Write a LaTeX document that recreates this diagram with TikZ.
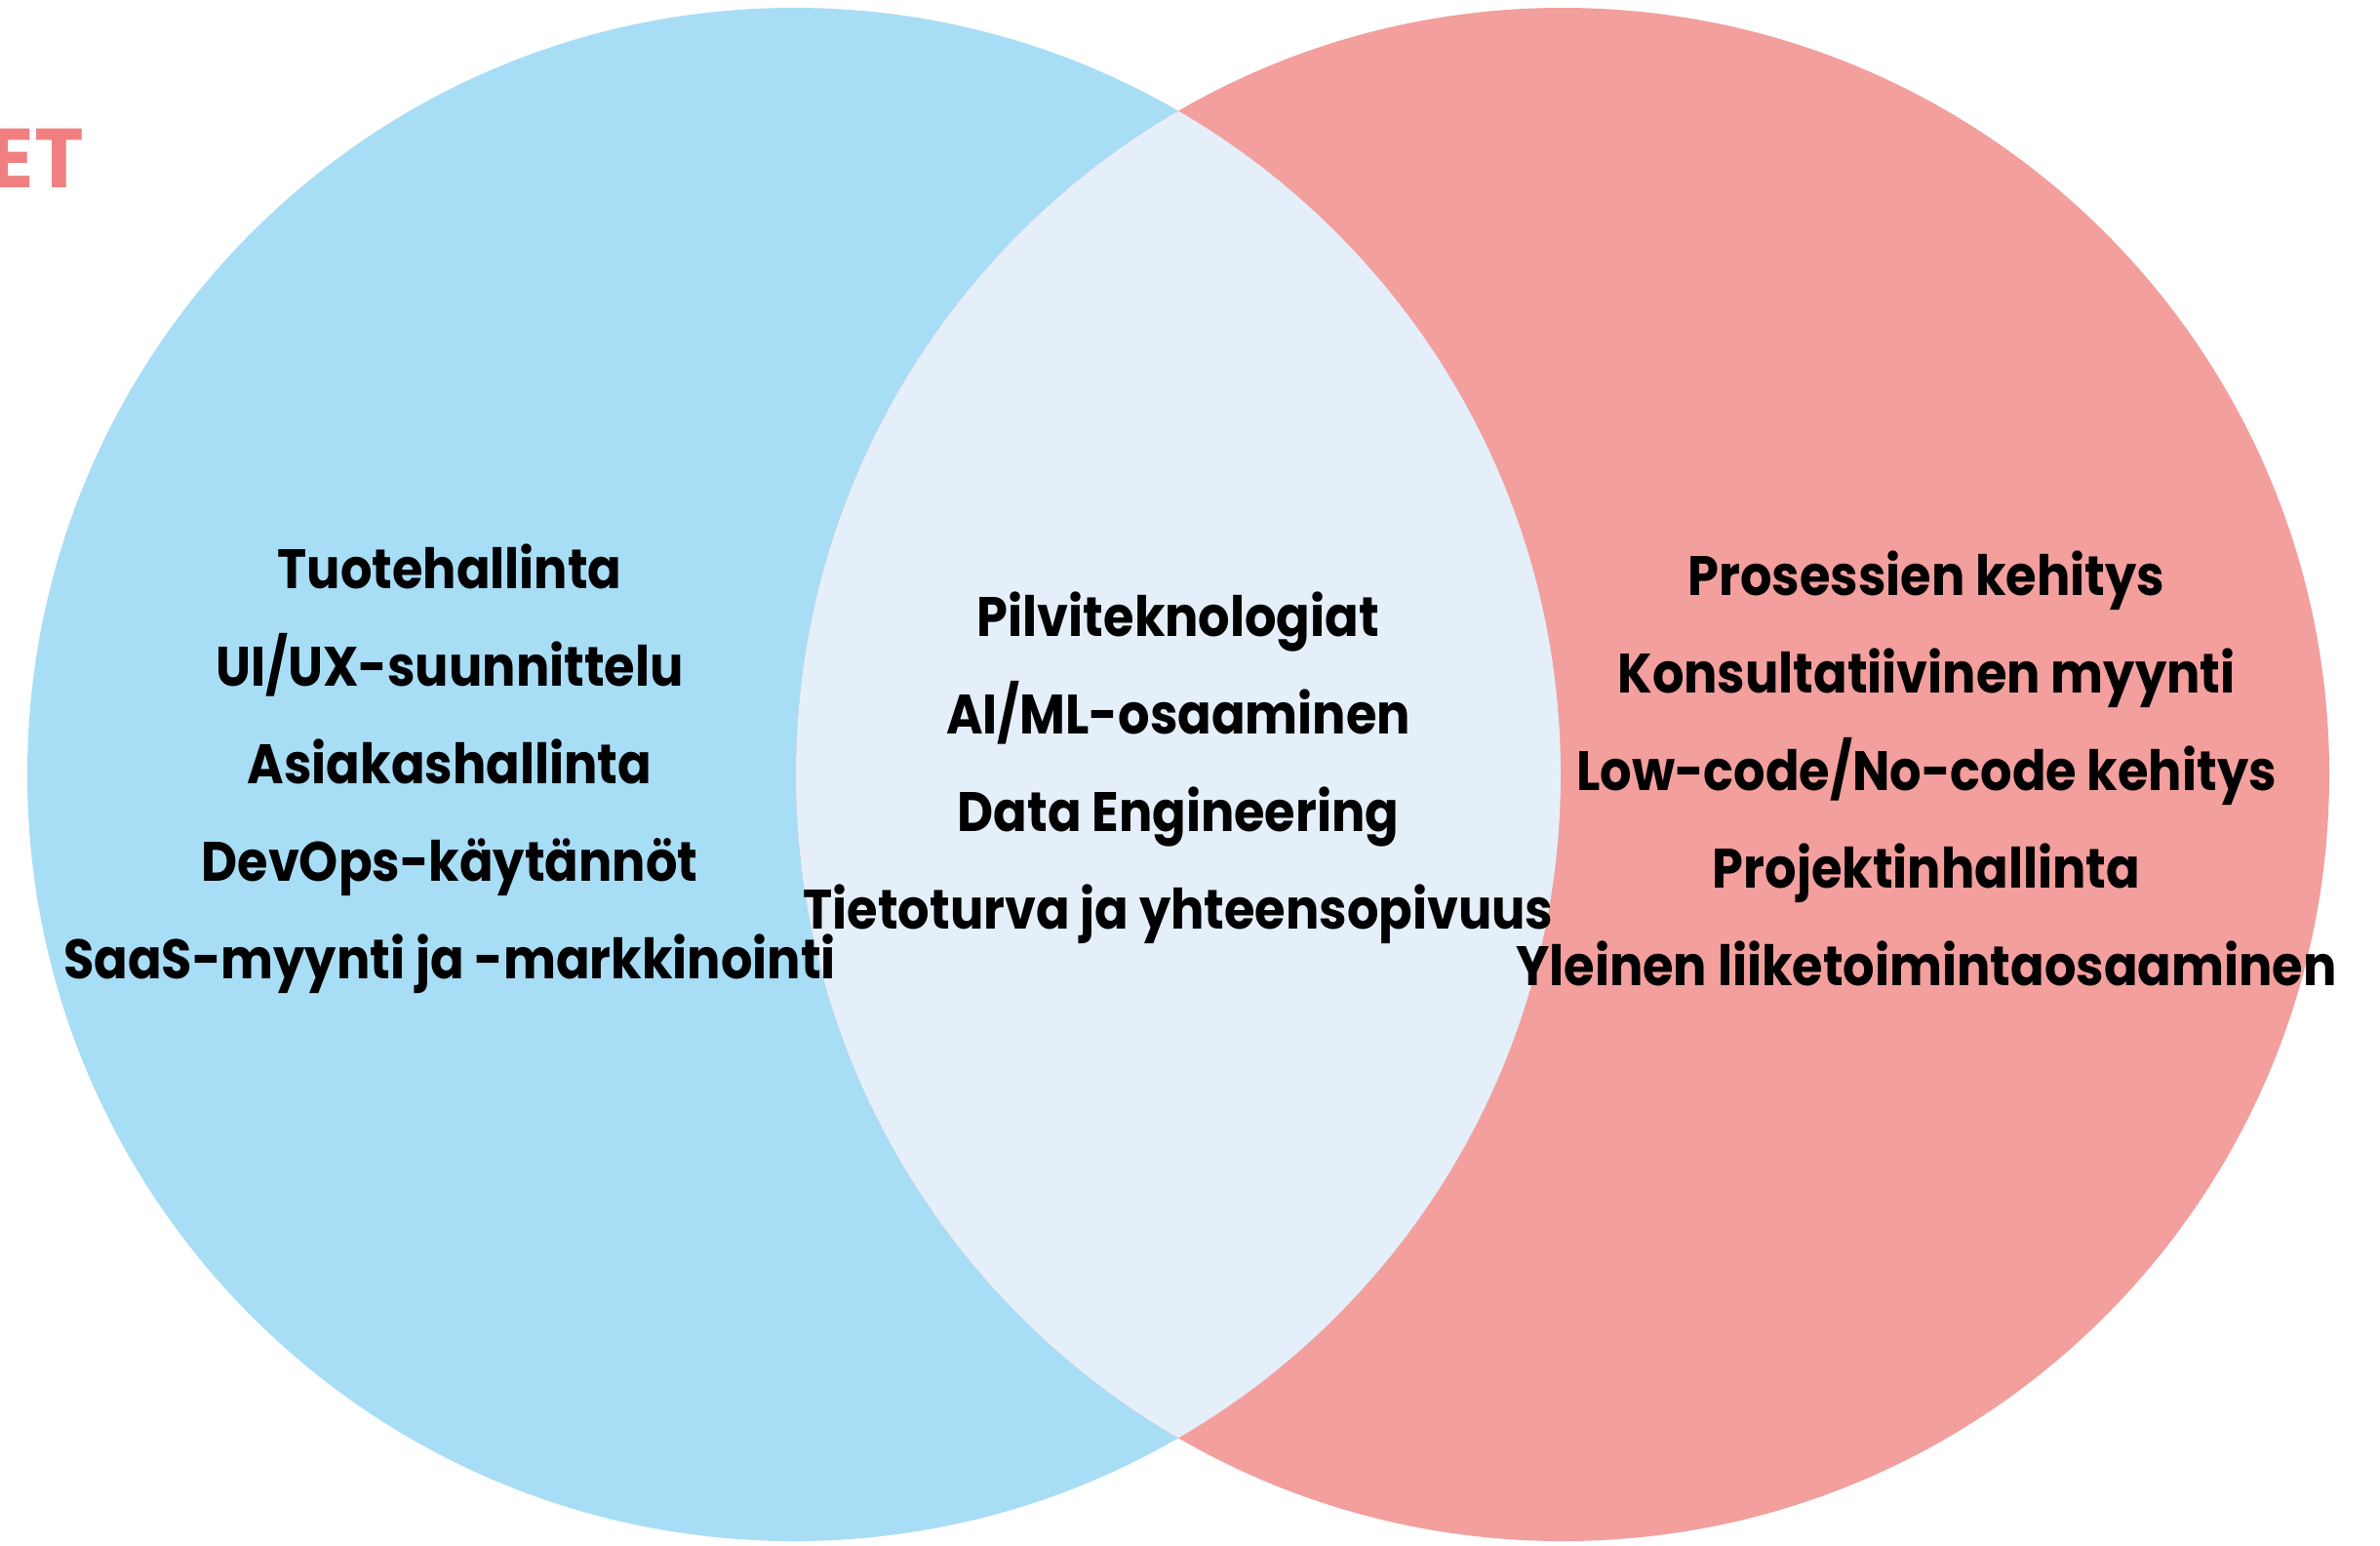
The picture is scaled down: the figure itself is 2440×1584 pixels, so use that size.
\documentclass[tikz,border=0pt]{standalone}
\usepackage{fontspec}
\setmainfont{Poppins}
\newfontfamily\lblfont{Poppins}[FakeStretch=0.895]
\definecolor{vblue}{HTML}{A8DDF6}
\definecolor{vpink}{HTML}{F29F9D}
\definecolor{vmid}{HTML}{E4EFFA}
\definecolor{vhead}{HTML}{F08080}
\tikzset{
  lbl/.style={anchor=base, inner sep=0pt, font=\lblfont\fontsize{17.1pt}{20pt}\selectfont\bfseries, text=black},
  head/.style={anchor=base east, inner sep=0pt, font=\fontsize{25.8pt}{30pt}\selectfont\bfseries, text=vhead}
}
\begin{document}
\begin{tikzpicture}[x=0.3pt, y=-0.3pt]
\useasboundingbox (0,0) rectangle (2440,1584);
\fill[white] (0,0) rectangle (2440,1584);
\fill[vblue] (814,794) circle[radius=235.8pt];
\fill[vpink] (1602,794) circle[radius=235.8pt];
\begin{scope}
  \clip (814,794) circle[radius=235.8pt];
  \fill[vmid] (1602,794) circle[radius=235.8pt];
\end{scope}
\node[head] (hd) at (87,192) {ET};
% left
\node[lbl] (l1) at (461,603) {Tuotehallinta};
\node[lbl] (l2) at (461,703) {UI/UX-suunnittelu};
\node[lbl] (l3) at (461,803) {Asiakashallinta};
\node[lbl] (l4) at (461,903) {DevOps-käytännöt};
\node[lbl] (l5) at (461,1003) {SaaS-myynti ja -markkinointi};
% middle
\node[lbl] (m1) at (1208,652) {Pilviteknologiat};
\node[lbl] (m2) at (1208,752) {AI/ML-osaaminen};
\node[lbl] (m3) at (1208,852) {Data Engineering};
\node[lbl] (m4) at (1208,952) {Tietoturva ja yhteensopivuus};
% right
\node[lbl] (r1) at (1975,610) {Prosessien kehitys};
\node[lbl] (r2) at (1975,710) {Konsultatiivinen myynti};
\node[lbl] (r3) at (1975,810) {Low-code/No-code kehitys};
\node[lbl] (r4) at (1975,910) {Projektinhallinta};
\node[lbl] (r5) at (1975,1010) {Yleinen liiketoimintaosaaminen};
\end{tikzpicture}
\end{document}
